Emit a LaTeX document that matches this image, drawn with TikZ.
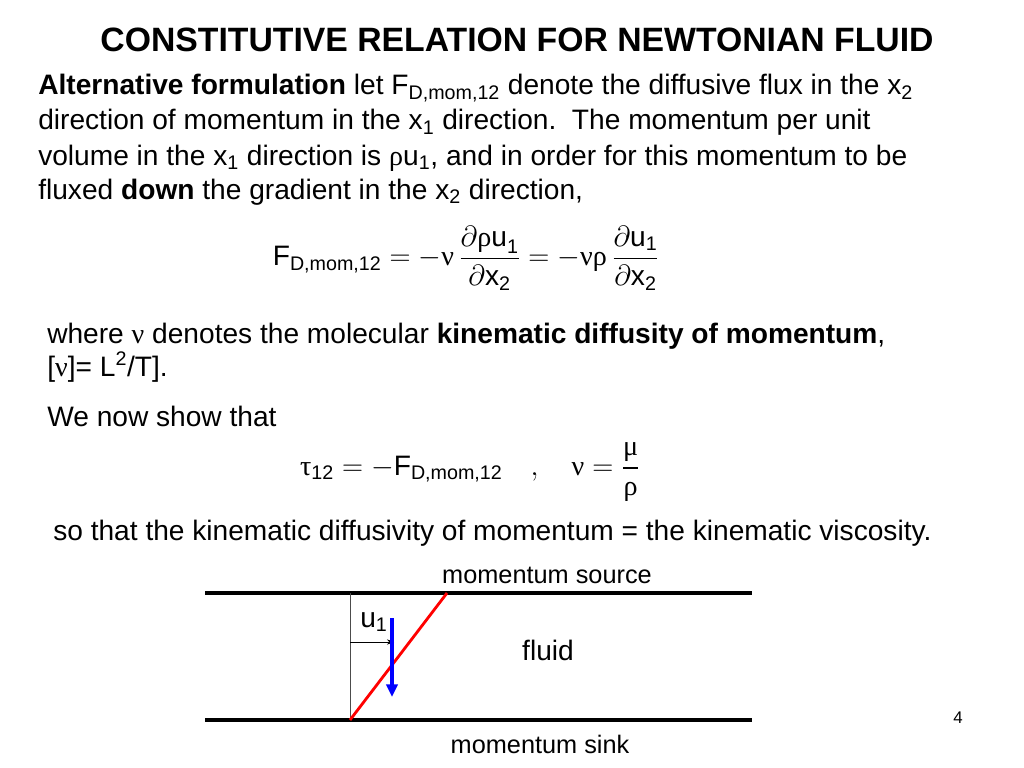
\documentclass[tikz,border=0pt]{standalone}
\usepackage{amsmath}
\usepackage{fontspec}
\setmainfont{Liberation Sans}
\newfontfamily\grk{Liberation Serif}
\usetikzlibrary{arrows.meta}
\newcommand{\gr}[1]{{\grk #1}}
\newcommand{\tx}[1]{\text{#1}}
\newcommand{\lo}[1]{$_{\text{#1}}$}
\newcommand{\hi}[1]{$^{\text{#1}}$}
\tikzset{
    txt/.style = {anchor=base west, inner sep=0pt, font=\fontsize{20}{24}\selectfont},
    eqn/.style = {inner sep=0pt, font=\fontsize{20}{24}\selectfont},
    wall/.style = {line width=2.2pt},
    lbl/.style = {inner sep=0pt, font=\fontsize{18}{22}\selectfont}
}
\begin{document}
\begin{tikzpicture}[x=0.025cm, y=-0.025cm]
\useasboundingbox (0,0) rectangle (1024,768);
\node (title) [anchor=base, inner sep=0pt, font=\bfseries\fontsize{24}{28}\selectfont] at (517,52) {CONSTITUTIVE RELATION FOR NEWTONIAN FLUID};
\node (l1) [txt] at (38,95) {\textbf{Alternative formulation} let F\lo{D,mom,12} denote the diffusive flux in the x\lo{2}};
\node (l2) [txt] at (38,130) {direction of momentum in the x\lo{1} direction.\ \ The momentum per unit};
\node (l3) [txt] at (38,165) {volume in the x\lo{1} direction is \gr{ρ}u\lo{1}, and in order for this momentum to be};
\node (l4) [txt] at (38,199) {fluxed \textbf{down} the gradient in the x\lo{2} direction,};
\node (eq1) [eqn] at (466,258) {$\tx{F}_{\tx{D,mom,12}} = -\tx{\gr{ν}}\,\dfrac{\partial\tx{\gr{ρ}u}_{\tx{1}}}{\partial\tx{x}_{\tx{2}}} = -\tx{\gr{νρ}}\,\dfrac{\partial\tx{u}_{\tx{1}}}{\partial\tx{x}_{\tx{2}}}$};
\node (l5) [txt] at (47,343) {where \gr{ν} denotes the molecular \textbf{kinematic diffusity of momentum},};
\node (l6) [txt] at (47,376) {[\gr{ν}]= L\hi{2}/T].};
\node (l7) [txt] at (47,426) {We now show that};
\node (eq2) [eqn] at (470,472) {$\tx{\gr{τ}}_{\tx{12}} = -\tx{F}_{\tx{D,mom,12}} \quad , \quad \tx{\gr{ν}} = \dfrac{\tx{\gr{μ}}}{\tx{\gr{ρ}}}$};
\node (l8) [txt] at (53,540) {so that the kinematic diffusivity of momentum = the kinematic viscosity.};
% channel
\coordinate (tl) at (205,593);
\coordinate (tr) at (752,593);
\coordinate (bl) at (205,720);
\coordinate (br) at (752,720);
\coordinate (o) at (350,720);
\coordinate (ot) at (350,593);
\coordinate (rt) at (447,593);
\draw [wall] (tl) -- (tr);
\draw [wall] (bl) -- (br);
\draw [gray!60!black, thin] (o) -- (ot);
\draw [red, line width=2pt] (o) -- (rt);
\coordinate (ua) at (350,642);
\coordinate (ub) at (394,642);
\draw [-{Stealth[length=5pt]}] (ua) -- (ub);
\coordinate (ba) at (392,618);
\coordinate (bb) at (392,697);
\draw [blue, line width=2.2pt, -{Triangle[length=9pt,width=8pt]}] (ba) -- (bb);
\node (u1) [lbl, font=\fontsize{20}{22}\selectfont] at (374,622) {u\lo{1}};
\node (fluid) [lbl, font=\fontsize{20}{22}\selectfont] at (548,650) {fluid};
\node (src) [lbl] at (547,575) {momentum source};
\node (sink) [lbl] at (540,744) {momentum sink};
\node (page) [lbl, font=\fontsize{12}{14}\selectfont] at (958,718) {4};
\end{tikzpicture}
\end{document}
